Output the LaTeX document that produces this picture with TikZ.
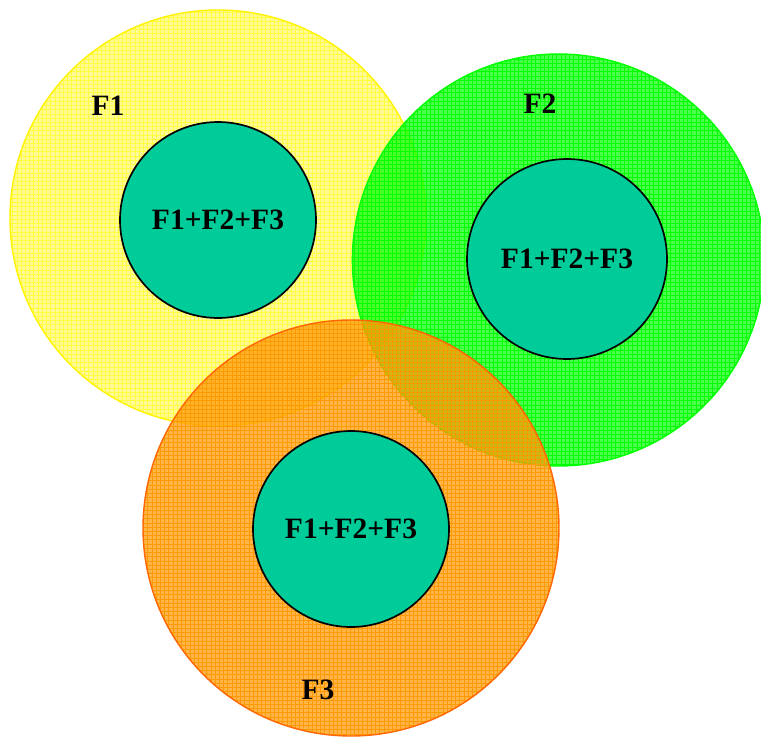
\documentclass[tikz,border=0pt]{standalone}
\usepackage{fontspec}
\setmainfont{Liberation Serif}
\usetikzlibrary{patterns}
\definecolor{tealfill}{RGB}{0,204,153}
\definecolor{orangeline}{RGB}{255,102,0}
\definecolor{orangefill}{RGB}{255,153,0}
\definecolor{greenfill}{RGB}{0,255,0}
\tikzset{
big set/.style={circle, inner sep=0pt, outer sep=0pt, minimum size=10.4cm, line width=1pt}, % the large shaded discs
core/.style={circle, draw=black, line width=1.2pt, fill=tealfill, inner sep=0pt, minimum size=4.9cm, font=\bfseries\fontsize{21}{25}\selectfont}, % the inner F1+F2+F3 discs
set label/.style={font=\bfseries\fontsize{21}{25}\selectfont}, % names of the sets
}

\begin{document}
\begin{tikzpicture}
        \useasboundingbox (0,0) rectangle (19.025,-18.45);

        \node[big set, draw=yellow, preaction={fill=yellow, fill opacity=0.4}, pattern=grid, pattern color=yellow!75] (F1) at (5.45,-5.45) {};
        \node[big set, minimum size=10.3cm, draw=greenfill, preaction={fill=greenfill, fill opacity=0.7}, pattern=grid, pattern color=greenfill] (F2) at (13.96,-6.5) {};
        \node[big set, draw=orangeline, preaction={fill=orangefill, fill opacity=0.72}, pattern=grid, pattern color=orangefill] (F3) at (8.775,-13.2) {};

        \node[core] (C1) at (5.45,-5.5) {F1+F2+F3};
        \node[core, minimum size=5cm] (C2) at (14.175,-6.475) {F1+F2+F3};
        \node[core] (C3) at (8.775,-13.225) {F1+F2+F3};

        \node[set label] (L1) at (2.7,-2.65) {F1};
        \node[set label] (L2) at (13.5,-2.6) {F2};
        \node[set label] (L3) at (7.95,-17.25) {F3};
    \end{tikzpicture}
\end{document}
